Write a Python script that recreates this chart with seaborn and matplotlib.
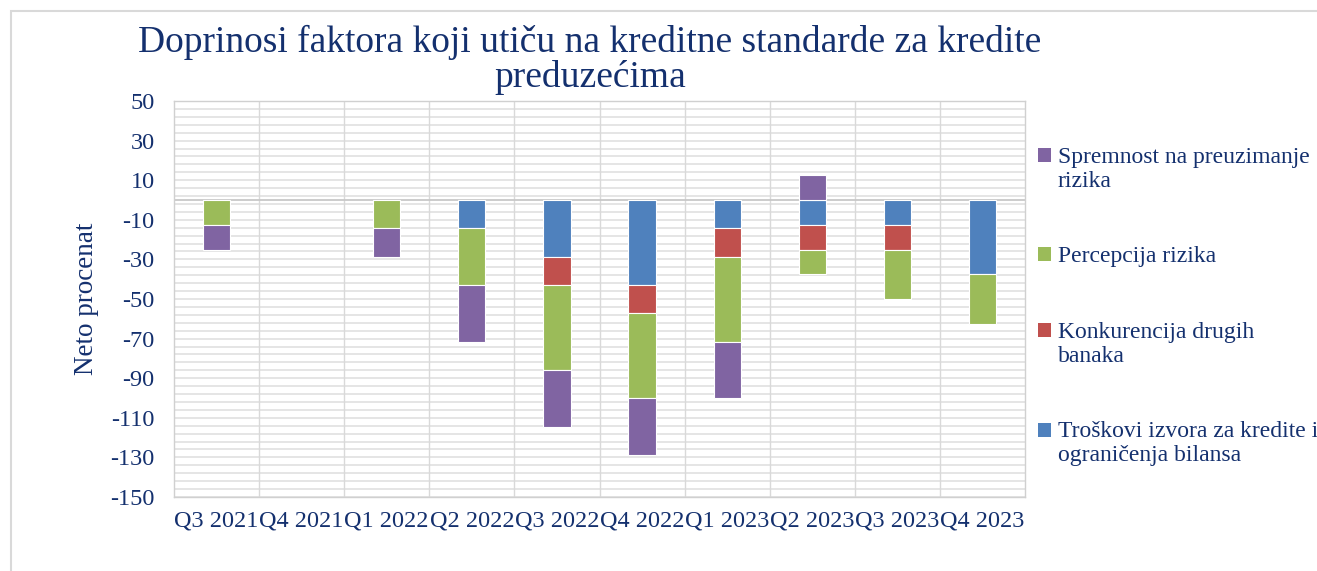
import numpy as np
import matplotlib
matplotlib.use("Agg")
import matplotlib.pyplot as plt
from matplotlib.patches import Rectangle, Patch
from matplotlib.legend_handler import HandlerPatch
import seaborn as sns

quarters = ["Q3 2021", "Q4 2021", "Q1 2022", "Q2 2022", "Q3 2022",
            "Q4 2022", "Q1 2023", "Q2 2023", "Q3 2023", "Q4 2023"]

# stacked from zero outwards: blue, red, green, purple
troskovi = [0, 0, 0, -14.3, -28.6, -42.9, -14.3, -12.5, -12.5, -37.5]
konkurencija = [0, 0, 0, 0, -14.3, -14.3, -14.3, -12.5, -12.5, 0]
percepcija = [-12.5, 0, -14.3, -28.6, -42.9, -42.9, -42.9, -12.5, -25, -25]
spremnost = [-12.5, 0, -14.3, -28.6, -28.6, -28.6, -28.6, 12.5, 0, 0]

series = [
    ("Troškovi izvora za kredite i\nograničenja bilansa", troskovi, "#4f81bd"),
    ("Konkurencija drugih\nbanaka", konkurencija, "#c0504d"),
    ("Percepcija rizika", percepcija, "#9bbb59"),
    ("Spremnost na preuzimanje\nrizika", spremnost, "#8064a2"),
]

yticks = [50, 30, 10, -10, -30, -50, -70, -90, -110, -130, -150]

navy = "#14306e"


def first_line_patch(legend, orig_handle, xdescent, ydescent, width, height, fontsize):
    # put the square next to the first line of a two-line label
    shift = 0.58 * fontsize if "\n" in orig_handle.get_label() else 0
    return Rectangle((-xdescent, -ydescent + shift), width, height)


sns.set_theme(style="white")
plt.rcParams["font.family"] = ["Liberation Serif", "DejaVu Serif"]

fig = plt.figure(figsize=(13.17, 5.71), dpi=100)
ax = fig.add_axes([174 / 1317, 1 - 497 / 571, (1025 - 174) / 1317, (497 - 101) / 571])

# light horizontal grid every 4 units, vertical lines between categories
for y in np.arange(-150, 51, 4):
    ax.axhline(y, color="#e3e3e3", lw=1.3, zorder=0)
for x in np.arange(0.5, len(quarters) - 0.5, 1):
    ax.axvline(x, color="#d9d9d9", lw=1.0, zorder=0)

pos_base = np.zeros(len(quarters))
neg_base = np.zeros(len(quarters))
for label, vals, color in series:
    vals = np.array(vals, dtype=float)
    bottom = np.where(vals >= 0, pos_base, neg_base)
    sns.barplot(x=quarters, y=vals, bottom=bottom, color=color, width=0.32,
                edgecolor="white", linewidth=0.8, saturation=1, ax=ax, zorder=2)
    pos_base += np.where(vals > 0, vals, 0)
    neg_base += np.where(vals < 0, vals, 0)

for p in ax.patches:
    if p.get_height() == 0:
        p.set_visible(False)

ax.axhline(0, color="#c8c8c8", lw=1.3, zorder=1)

ax.set_xlim(-0.5, len(quarters) - 0.5)
ax.set_ylim(-150, 50)
ax.set_yticks(yticks)
ax.set_yticklabels([str(t) for t in yticks])
ax.tick_params(axis="both", length=0, labelsize=17.5, labelcolor=navy)
ax.tick_params(axis="y", pad=14)
ax.tick_params(axis="x", pad=10)
ax.set_ylabel("Neto procenat", fontsize=19.5, color=navy, labelpad=8)
ax.set_xlabel("")
for sp in ax.spines.values():
    sp.set_linestyle((0, (2, 1)))
    sp.set_color("#d0d0d0")
    sp.set_linewidth(1.0)

fig.text(590 / 1317, 1 - 60 / 571,
         "Doprinosi faktora koji utiču na kreditne standarde za kredite\npreduzećima",
         ha="center", va="center", fontsize=27, color=navy, linespacing=1.0)

handles = [Patch(facecolor=c, edgecolor="none", label=l) for l, _, c in series[::-1]]
fig.legend(handles=handles, loc="upper left",
           bbox_to_anchor=(1026 / 1317, 1 - 135 / 571), frameon=False,
           fontsize=17, labelcolor=navy, handlelength=0.55, handleheight=0.55,
           handletextpad=0.3, labelspacing=2.3, borderpad=0,
           handler_map={Patch: HandlerPatch(patch_func=first_line_patch)})

# chart area border (cut off on the right and bottom)
fig.add_artist(Rectangle((11 / 1317, -0.1), 1.5, 1.1 - 11 / 571,
                         transform=fig.transFigure, fill=False,
                         edgecolor="#d9d9d9", lw=1.5))

plt.savefig("out.png", dpi=100)
plt.close()
